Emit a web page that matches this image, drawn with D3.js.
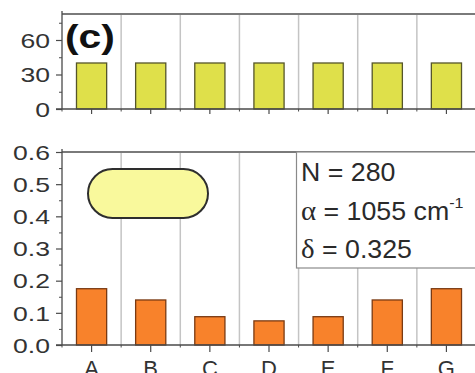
<!DOCTYPE html>
<html><head><meta charset="utf-8">
<script src="https://cdn.jsdelivr.net/npm/d3@7"></script>
<style>body{margin:0;background:#fff} svg{display:block}</style>
</head><body>
<svg id="chart" width="475" height="373"></svg>
<script>
// Data
const categories = ["A", "B", "C", "D", "E", "F", "G"];
const countValues = [40, 40, 40, 40, 40, 40, 40];
const fractionValues = [0.175, 0.14, 0.088, 0.075, 0.088, 0.14, 0.175];
const countTicks = [0, 30, 60];
const countMinorTicks = [15, 45, 75];
const fractionTicks = [0, 0.1, 0.2, 0.3, 0.4, 0.5, 0.6];
const fractionMinorTicks = [0.05, 0.15, 0.25, 0.35, 0.45, 0.55];
const panelLabel = "(c)";
const infoLines = [
  {sym: "N", text: " = 280", sup: ""},
  {sym: "α", text: " = 1055 cm", sup: "-1"},
  {sym: "δ", text: " = 0.325", sup: ""}
];

const svg = d3.select("#chart");
const left = 62, right = 476;
const axisColor = "#4a4a4a", gridColor = "#c4c4c4", frameColor = "#7a7a7a";
const labelScale = 1.33;

const x = d3.scaleBand().domain(categories).range([left, right])
  .paddingInner(0.49).paddingOuter(0.245);
const step = x.step();
const boundaries = d3.range(categories.length + 1).map(i => left + i * step);

function panel(cfg) {
  const y = d3.scaleLinear().domain(cfg.domain).range([cfg.bottom, cfg.top]);
  const g = svg.append("g");

  // vertical separators between categories
  g.selectAll("line.grid").data(boundaries.slice(1)).join("line")
    .attr("class", "grid")
    .attr("x1", d => d).attr("x2", d => d)
    .attr("y1", cfg.top).attr("y2", cfg.bottom)
    .attr("stroke", gridColor).attr("stroke-width", 1.5);

  // top frame
  g.append("line").attr("x1", left).attr("x2", right)
    .attr("y1", cfg.top).attr("y2", cfg.top)
    .attr("stroke", frameColor).attr("stroke-width", 2);

  if (cfg.extra) cfg.extra(g, y);

  // bars
  g.selectAll("rect.bar").data(cfg.values).join("rect")
    .attr("class", "bar")
    .attr("x", (d, i) => x(categories[i]))
    .attr("width", x.bandwidth())
    .attr("y", d => y(d))
    .attr("height", d => y(0) - y(d))
    .attr("fill", cfg.fill).attr("stroke", cfg.stroke).attr("stroke-width", 1.3);

  // minor y ticks
  const minor = g.append("g").attr("transform", `translate(${left},0)`)
    .call(d3.axisLeft(y).tickValues(cfg.minor).tickSize(3).tickFormat(""));
  minor.select(".domain").remove();
  minor.selectAll("line").attr("stroke", axisColor);

  // major y axis
  const ya = g.append("g").attr("transform", `translate(${left},0)`)
    .call(d3.axisLeft(y).tickValues(cfg.ticks).tickSize(6).tickSizeOuter(0)
      .tickFormat(cfg.format));
  ya.select(".domain").attr("stroke", axisColor).attr("stroke-width", 1.3)
    .attr("d", `M0,${cfg.top - 3}V${cfg.bottom}`);
  ya.selectAll(".tick line").attr("stroke", axisColor).attr("stroke-width", 1.2);
  ya.selectAll(".tick text")
    .attr("font-family", "Liberation Sans, Arial, sans-serif")
    .attr("font-size", 20).attr("fill", "#333")
    .attr("x", -12 / labelScale).attr("dy", "0.36em")
    .attr("transform", `scale(${labelScale},1)`);

  // x axis
  const xa = g.append("g").attr("transform", `translate(0,${cfg.bottom})`)
    .call(d3.axisBottom(x).tickSize(cfg.xTick).tickSizeOuter(0)
      .tickFormat(cfg.xLabels ? (d => d) : ""));
  xa.select(".domain").attr("stroke", axisColor).attr("stroke-width", 1.5)
    .attr("d", `M${left - 6},0H${right}`);
  xa.selectAll(".tick line").attr("stroke", axisColor).attr("stroke-width", 1.2);
  xa.selectAll(".tick text")
    .attr("font-family", "Liberation Sans, Arial, sans-serif")
    .attr("font-size", 22).attr("fill", "#333")
    .attr("y", 31).attr("dy", 0);
  g.selectAll("line.bt").data(boundaries).join("line")
    .attr("class", "bt")
    .attr("x1", d => d).attr("x2", d => d)
    .attr("y1", cfg.bottom).attr("y2", cfg.bottom + 2.5)
    .attr("stroke", axisColor).attr("stroke-width", 1);
  return y;
}

// upper panel
panel({
  top: 14, bottom: 109, domain: [0, 82.6],
  values: countValues, ticks: countTicks, minor: countMinorTicks,
  format: d3.format("d"), fill: "#dfe04a", stroke: "#55552a",
  xTick: 5, xLabels: false
});

svg.append("text").text(panelLabel)
  .attr("font-family", "Liberation Sans, Arial, sans-serif")
  .attr("font-weight", "bold").attr("font-size", 34).attr("fill", "#111")
  .attr("transform", "translate(65,48) scale(1.2,1)");

// lower panel
panel({
  top: 152, bottom: 345, domain: [0, 0.6],
  values: fractionValues, ticks: fractionTicks, minor: fractionMinorTicks,
  format: d3.format(".1f"), fill: "#f8822b", stroke: "#7a3a12",
  xTick: 7, xLabels: true,
  extra: (g, y) => {
    // rod-shaped particle sketch
    g.append("rect").attr("x", 88).attr("y", 169).attr("width", 120).attr("height", 49)
      .attr("rx", 24.5).attr("ry", 24.5)
      .attr("fill", "#f9f99c").attr("stroke", "#2e2e2e").attr("stroke-width", 2);
    // parameter box
    g.append("rect").attr("x", 296.5).attr("y", 152).attr("width", 200).attr("height", 116)
      .attr("fill", "#fff").attr("stroke", "#8a8a8a").attr("stroke-width", 1.2);
    const t = g.append("g").attr("font-family", "Liberation Sans, Arial, sans-serif")
      .attr("font-size", 25).attr("fill", "#2a2a2a");
    infoLines.forEach((ln, i) => {
      const txt = t.append("text")
        .attr("transform", `translate(301,${181 + i * 38.5}) scale(1.07,1)`);
      const greek = ln.sym !== "N";
      txt.append("tspan").text(ln.sym)
        .attr("font-family", greek ? "Liberation Serif, Times New Roman, serif" : null)
        .attr("font-size", greek ? 27 : null);
      txt.append("tspan").text(ln.text);
      if (ln.sup) txt.append("tspan").text(ln.sup).attr("font-size", 15).attr("dy", -12);
    });
  }
});
</script>
</body></html>
